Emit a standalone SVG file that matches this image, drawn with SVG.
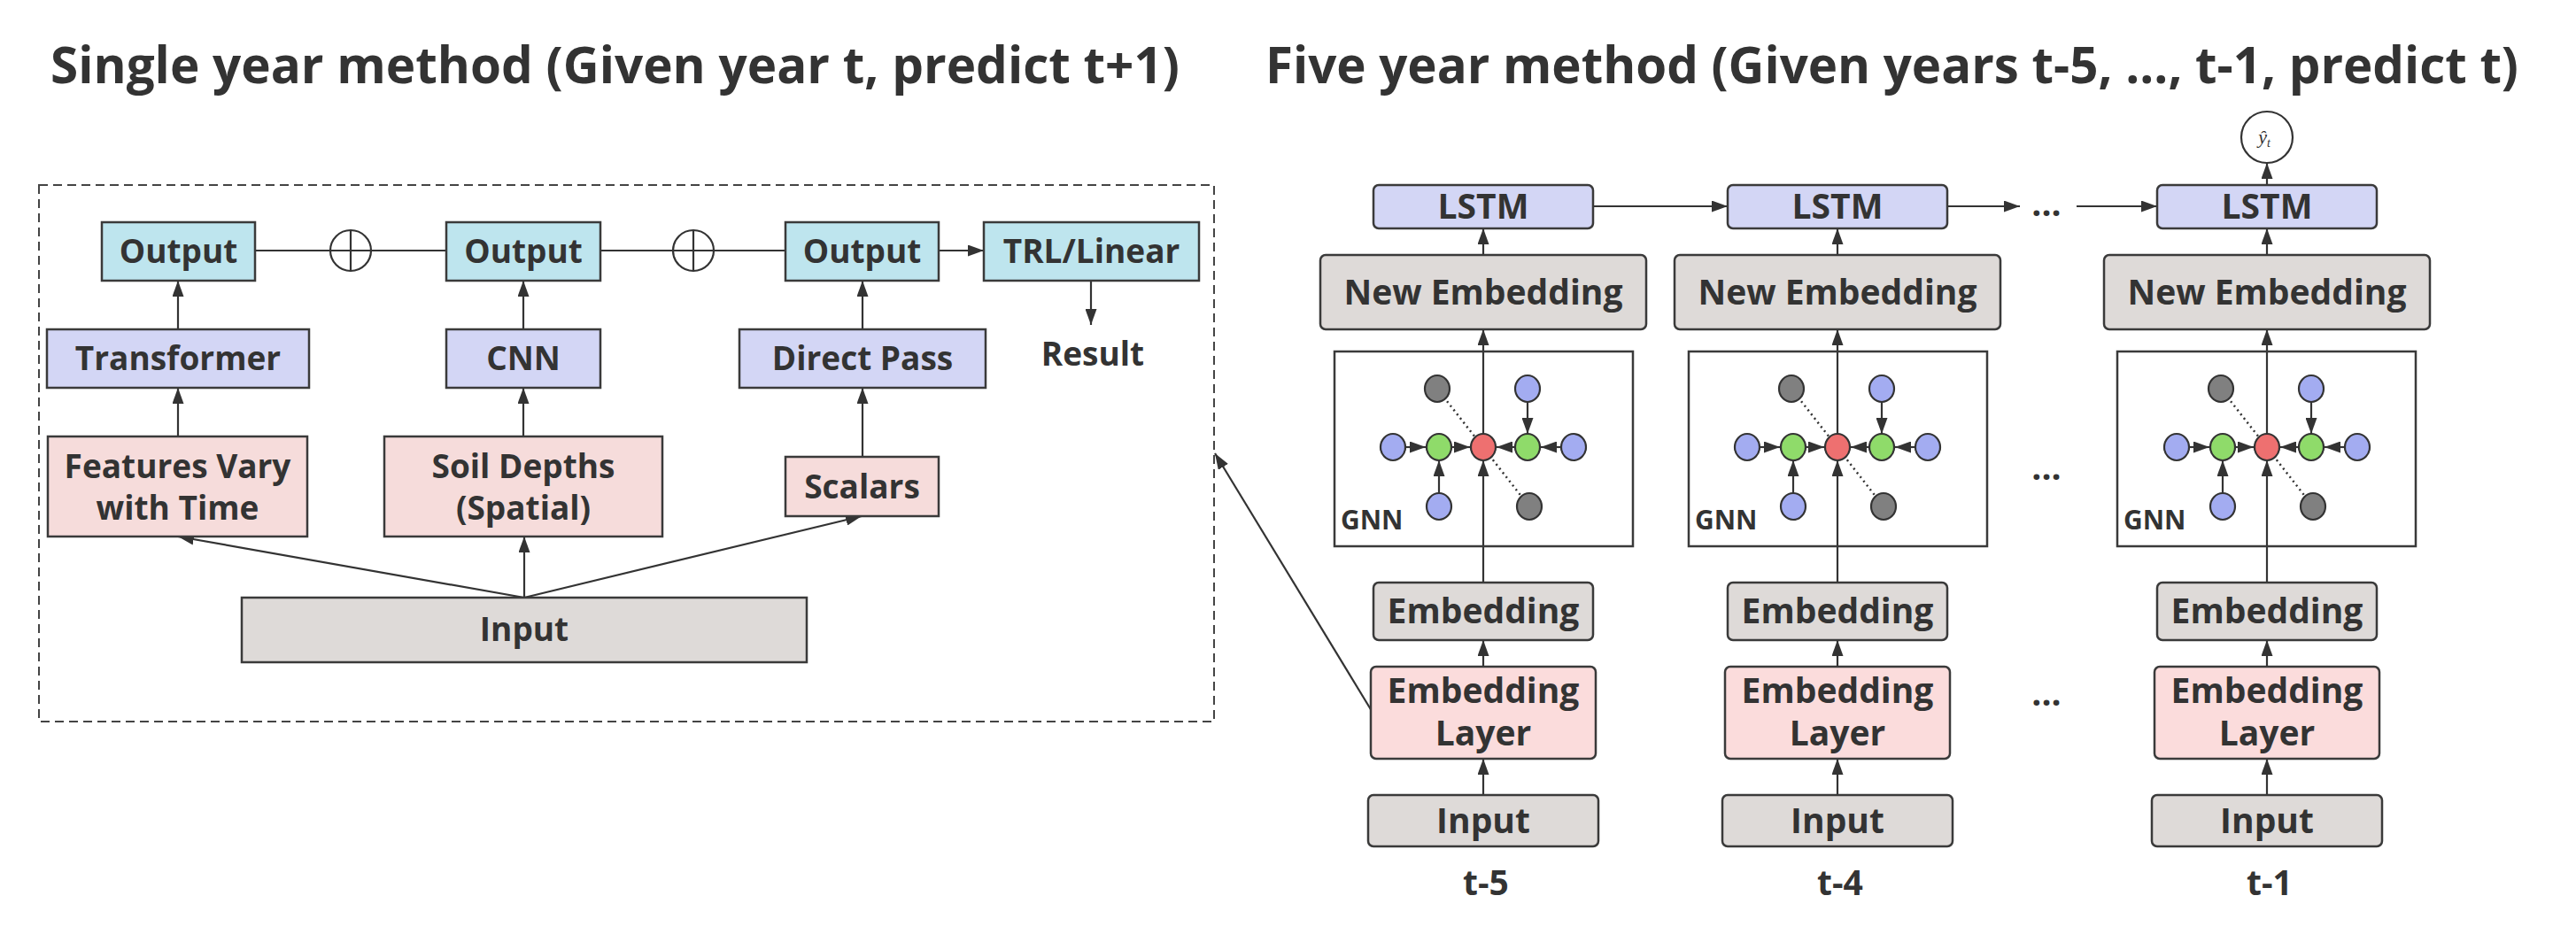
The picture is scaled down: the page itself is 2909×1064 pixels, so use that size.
<svg xmlns="http://www.w3.org/2000/svg" width="2909" height="1064" viewBox="0 0 2909 1064">
<style>
text{font-family:"Open Sans","Noto Sans","Liberation Sans",sans-serif;font-weight:bold;fill:#333;text-anchor:middle}
.t{font-size:37px}
.r{font-size:39px}
.lab{font-size:39px}
.title{font-size:58px;text-anchor:start}
.cy{fill:#bee5ee;stroke:#3a3a3a;stroke-width:2.5}
.lv{fill:#d3d6f5;stroke:#3a3a3a;stroke-width:2.5}
.pk{fill:#f6dcdb;stroke:#3a3a3a;stroke-width:2.5}
.gy{fill:#dedad8;stroke:#3a3a3a;stroke-width:2.5}
.pk2{fill:#fbdcdc;stroke:#3a3a3a;stroke-width:2.5}
.gnn{fill:none;stroke:#3a3a3a;stroke-width:2.5}
.ln{fill:none;stroke:#333;stroke-width:2.2}
.ar{fill:none;stroke:#333;stroke-width:2.2;marker-end:url(#ah)}
.dot{fill:none;stroke:#333;stroke-width:2.5;stroke-dasharray:2 4}
.nb{fill:#a3acf1;stroke:#333;stroke-width:2.2}
.ng{fill:#8fdb6a;stroke:#333;stroke-width:2.2}
.nr{fill:#ee7070;stroke:#333;stroke-width:2.2}
.nk{fill:#808080;stroke:#333;stroke-width:2.2}
</style>
<defs>
<marker id="ah" viewBox="0 0 18 13" refX="18" refY="6.5" markerWidth="18" markerHeight="13" markerUnits="userSpaceOnUse" orient="auto"><path d="M0,0 L18,6.5 L0,13 z" fill="#333"/></marker>
<g id="graph">
<line class="dot" x1="-52" y1="-66" x2="52" y2="67"/>
<line class="ar" x1="-88" y1="0" x2="-65" y2="0"/>
<line class="ar" x1="-36" y1="0" x2="-15" y2="0"/>
<line class="ar" x1="36" y1="0" x2="15" y2="0"/>
<line class="ar" x1="88" y1="0" x2="65" y2="0"/>
<line class="ar" x1="50" y1="-51" x2="50" y2="-15"/>
<line class="ar" x1="-50" y1="52" x2="-50" y2="15"/>
<ellipse class="nk" cx="-52" cy="-66" rx="14" ry="15"/>
<ellipse class="nb" cx="50" cy="-66" rx="14" ry="15"/>
<ellipse class="nb" cx="-102" cy="0" rx="14" ry="15"/>
<ellipse class="ng" cx="-50" cy="0" rx="14" ry="15"/>
<ellipse class="nr" cx="0" cy="0" rx="14" ry="15"/>
<ellipse class="ng" cx="50" cy="0" rx="14" ry="15"/>
<ellipse class="nb" cx="102" cy="0" rx="14" ry="15"/>
<ellipse class="nb" cx="-50" cy="67" rx="14" ry="15"/>
<ellipse class="nk" cx="52" cy="67" rx="14" ry="15"/>
</g>
</defs>

<text class="title" x="57" y="94" textLength="1275" lengthAdjust="spacingAndGlyphs">Single year method (Given year t, predict t+1)</text>
<text class="title" x="1429" y="94" textLength="1415" lengthAdjust="spacingAndGlyphs">Five year method (Given years t-5, ..., t-1, predict t)</text>

<g id="single-year-frame"><rect x="44" y="209" width="1327" height="606" fill="none" stroke="#444" stroke-width="2" stroke-dasharray="10 6"/></g>

<g id="connectors">
<line class="ln" x1="288" y1="283" x2="373" y2="283"/>
<line class="ln" x1="419" y1="283" x2="504" y2="283"/>
<line class="ln" x1="678" y1="283" x2="760" y2="283"/>
<line class="ln" x1="806" y1="283" x2="887" y2="283"/>
<line class="ar" x1="1060" y1="283" x2="1111" y2="283"/>
<line class="ar" x1="1232" y1="317" x2="1232" y2="367"/>
<line class="ar" x1="201" y1="372" x2="201" y2="317"/>
<line class="ar" x1="201" y1="493" x2="201" y2="438"/>
<line class="ar" x1="591" y1="372" x2="591" y2="317"/>
<line class="ar" x1="591" y1="493" x2="591" y2="438"/>
<line class="ar" x1="974" y1="372" x2="974" y2="317"/>
<line class="ar" x1="974" y1="516" x2="974" y2="438"/>
<line class="ar" x1="592" y1="675" x2="201" y2="606"/>
<line class="ar" x1="592" y1="675" x2="592" y2="606"/>
<line class="ar" x1="592" y1="675" x2="973" y2="583"/>
<line class="ar" x1="1549" y1="803" x2="1372" y2="512"/>
<line class="ar" x1="1799" y1="233" x2="1951" y2="233"/>
<line class="ar" x1="2199" y1="233" x2="2281" y2="233"/>
<line class="ar" x1="2345" y1="233" x2="2436" y2="233"/>
<line class="ar" x1="2560" y1="209" x2="2560" y2="184"/>
<line class="ar" x1="1675" y1="288" x2="1675" y2="258"/>
<line class="ar" x1="2075" y1="288" x2="2075" y2="258"/>
<line class="ar" x1="2560" y1="288" x2="2560" y2="258"/>
<line class="ar" x1="1675" y1="490" x2="1675" y2="372"/>
<line class="ar" x1="2075" y1="490" x2="2075" y2="372"/>
<line class="ar" x1="2560" y1="490" x2="2560" y2="372"/>
<line class="ar" x1="1675" y1="658" x2="1675" y2="520"/>
<line class="ar" x1="2075" y1="658" x2="2075" y2="520"/>
<line class="ar" x1="2560" y1="658" x2="2560" y2="520"/>
<line class="ar" x1="1675" y1="753" x2="1675" y2="723"/>
<line class="ar" x1="2075" y1="753" x2="2075" y2="723"/>
<line class="ar" x1="2560" y1="753" x2="2560" y2="723"/>
<line class="ar" x1="1675" y1="898" x2="1675" y2="857"/>
<line class="ar" x1="2075" y1="898" x2="2075" y2="857"/>
<line class="ar" x1="2560" y1="898" x2="2560" y2="857"/>
</g>

<g id="oplus1"><circle cx="396" cy="283" r="23" fill="#fff" stroke="#333" stroke-width="2.2"/><line class="ln" x1="373" y1="283" x2="419" y2="283"/><line class="ln" x1="396" y1="260" x2="396" y2="306"/></g>
<g id="oplus2"><circle cx="783" cy="283" r="23" fill="#fff" stroke="#333" stroke-width="2.2"/><line class="ln" x1="760" y1="283" x2="806" y2="283"/><line class="ln" x1="783" y1="260" x2="783" y2="306"/></g>

<g id="output1"><rect class="cy" x="115" y="251" width="173" height="66"/><text class="t" x="201.5" y="297">Output</text></g>
<g id="output2"><rect class="cy" x="504" y="251" width="174" height="66"/><text class="t" x="591" y="297">Output</text></g>
<g id="output3"><rect class="cy" x="887" y="251" width="173" height="66"/><text class="t" x="973.5" y="297">Output</text></g>
<g id="trl"><rect class="cy" x="1111" y="251" width="243" height="66"/><text class="t" x="1232.5" y="297">TRL/Linear</text></g>
<g id="result"><text class="t" x="1234" y="413">Result</text></g>
<g id="transformer"><rect class="lv" x="53" y="372" width="296" height="66"/><text class="t" x="201" y="418">Transformer</text></g>
<g id="cnn"><rect class="lv" x="504" y="372" width="174" height="66"/><text class="t" x="591" y="418">CNN</text></g>
<g id="directpass"><rect class="lv" x="835" y="372" width="278" height="66"/><text class="t" x="974" y="418">Direct Pass</text></g>
<g id="features"><rect class="pk" x="54" y="493" width="293" height="113"/><text class="t" x="200.5" y="540">Features Vary</text><text class="t" x="200.5" y="587">with Time</text></g>
<g id="soil"><rect class="pk" x="434" y="493" width="314" height="113"/><text class="t" x="591" y="540">Soil Depths</text><text class="t" x="591" y="587">(Spatial)</text></g>
<g id="scalars"><rect class="pk" x="887" y="516" width="173" height="67"/><text class="t" x="973.5" y="563">Scalars</text></g>
<g id="input-left"><rect class="gy" x="273" y="675" width="638" height="73"/><text class="t" x="592" y="724">Input</text></g>

<g id="yhat"><circle cx="2560" cy="155" r="29" fill="#fff" stroke="#333" stroke-width="2.2"/><text x="2557" y="162" style="font-family:'Liberation Serif',serif;font-style:italic;font-weight:normal;font-size:22px">ŷ<tspan font-size="14" dy="4">t</tspan></text></g>

<g id="col1">
<rect class="lv" x="1551" y="209" width="248" height="49" rx="6"/><text class="r" x="1675" y="247">LSTM</text>
<rect class="gy" x="1491" y="288" width="368" height="84" rx="6"/><text class="r" x="1675" y="344">New Embedding</text>
<rect class="gnn" x="1507" y="397" width="337" height="220"/><text x="1514" y="598" style="font-size:30px;text-anchor:start">GNN</text>
<use href="#graph" x="1675" y="505"/>
<rect class="gy" x="1551" y="658" width="248" height="65" rx="6"/><text class="r" x="1675" y="704">Embedding</text>
<rect class="pk2" x="1548" y="753" width="254" height="104" rx="6"/><text class="r" x="1675" y="794">Embedding</text><text class="r" x="1675" y="842">Layer</text>
<rect class="gy" x="1545" y="898" width="260" height="58" rx="6"/><text class="r" x="1675" y="941">Input</text>
<text class="lab" x="1678" y="1011">t-5</text>
</g>
<g id="col2">
<rect class="lv" x="1951" y="209" width="248" height="49" rx="6"/><text class="r" x="2075" y="247">LSTM</text>
<rect class="gy" x="1891" y="288" width="368" height="84" rx="6"/><text class="r" x="2075" y="344">New Embedding</text>
<rect class="gnn" x="1907" y="397" width="337" height="220"/><text x="1914" y="598" style="font-size:30px;text-anchor:start">GNN</text>
<use href="#graph" x="2075" y="505"/>
<rect class="gy" x="1951" y="658" width="248" height="65" rx="6"/><text class="r" x="2075" y="704">Embedding</text>
<rect class="pk2" x="1948" y="753" width="254" height="104" rx="6"/><text class="r" x="2075" y="794">Embedding</text><text class="r" x="2075" y="842">Layer</text>
<rect class="gy" x="1945" y="898" width="260" height="58" rx="6"/><text class="r" x="2075" y="941">Input</text>
<text class="lab" x="2078" y="1011">t-4</text>
</g>
<g id="col3">
<rect class="lv" x="2436" y="209" width="248" height="49" rx="6"/><text class="r" x="2560" y="247">LSTM</text>
<rect class="gy" x="2376" y="288" width="368" height="84" rx="6"/><text class="r" x="2560" y="344">New Embedding</text>
<rect class="gnn" x="2391" y="397" width="337" height="220"/><text x="2398" y="598" style="font-size:30px;text-anchor:start">GNN</text>
<use href="#graph" x="2560" y="505"/>
<rect class="gy" x="2436" y="658" width="248" height="65" rx="6"/><text class="r" x="2560" y="704">Embedding</text>
<rect class="pk2" x="2433" y="753" width="254" height="104" rx="6"/><text class="r" x="2560" y="794">Embedding</text><text class="r" x="2560" y="842">Layer</text>
<rect class="gy" x="2430" y="898" width="260" height="58" rx="6"/><text class="r" x="2560" y="941">Input</text>
<text class="lab" x="2563" y="1011">t-1</text>
</g>
<g id="ellipses">
<text class="r" x="2311" y="244">...</text>
<text class="r" x="2311" y="542">...</text>
<text class="r" x="2311" y="797">...</text>
</g>
</svg>
